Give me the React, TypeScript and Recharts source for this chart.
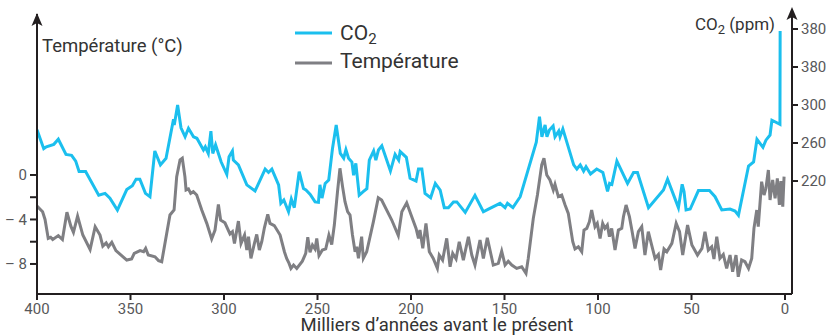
import { ComposedChart, Line, XAxis, YAxis } from "recharts";

// CO2 (ppm) by thousands of years before present
const co2Years = [
  400, 396.4, 395, 391, 388.6, 384.5, 381.5, 379.3, 377.5, 374, 367, 363.6, 361, 357, 352, 349, 347, 345, 342, 339.6,
  337, 334, 331, 327, 326.6, 324.8, 323, 320.8, 319, 316.3, 314.5, 311, 310, 308.4, 307, 306, 304.5, 301.5, 298.5,
  297.3, 295.5, 295, 292.3, 287.8, 283.4, 280.7, 278, 276.2, 274.4, 270.8, 269.6, 268, 265.5, 264, 262.4, 259.8,
  257.5, 256.2, 253.9, 251.3, 249.5, 248.7, 247.6, 245.9, 244, 242, 240, 237.8, 236, 234.8, 233.4, 231.6, 230.7,
  229.5, 227.7, 225.4, 223.6, 222.3, 220, 218.8, 217.4, 215.6, 211, 208.5, 206.6, 205.8, 202.5, 200.5, 197.3, 196,
  194.2, 192.5, 189.5, 187, 184.4, 182.2, 180, 177.3, 175.5, 171, 165.8, 161.3, 158.6, 152.4, 149.7, 148.4, 145.5,
  141.6, 133, 131.3, 130, 128.3, 127.3, 126, 124, 123, 121, 120.3, 118.8, 117, 113, 111.3, 109.5, 107.7, 106.4, 104,
  100.7, 97.4, 94.9, 93.8, 92.6, 89.9, 84.2, 81, 78.9, 73, 65, 62.8, 57, 55, 54, 52.9, 50.7, 46.3, 40.4, 37.4, 33.8,
  29.4, 26.7, 24.9, 19.5, 16.8, 15, 11.8, 10.2, 8, 7, 2.7, 2.6,
];
const co2Values = [
  274, 254, 256, 258.6, 264, 248, 247, 241, 230, 230, 205, 207, 202, 189.5, 211, 215, 222, 222, 207, 203.5,
  251.6, 237, 244, 285, 279, 300, 276, 266.6, 275.5, 266.6, 265, 252.6, 256, 249, 272.6, 249, 258, 240, 227,
  245.6, 251.6, 242, 237, 216, 209.5, 221, 232.6, 229, 232.6, 216, 196.5, 200, 187.7, 201, 192, 229.8,
  212, 210.5, 206, 198, 197.6, 216, 202, 217.5, 221, 254, 279, 249, 244, 253, 244, 240, 226,
  238.6, 205, 209, 212, 242, 251.6, 242, 252.6, 257, 230.5, 248, 242, 251, 245, 223, 220, 232.6,
  232.6, 207, 202.5, 217.5, 210.5, 192, 192, 198, 198, 187, 205, 187.7, 190.5, 196.5, 192, 196.5, 192,
  203.5, 261, 287.7, 266.6, 279, 266.6, 273.7, 278, 266.6, 272.6, 266.6, 274.7, 263, 237, 232.6, 237, 230.5, 235, 227.4,
  232.6, 229, 209, 217.5, 216.5, 241, 217.5, 229, 229, 192, 210.5, 222, 192, 216.5, 209, 189.5, 190.5, 210, 210, 203.5, 189.5,
  190.5, 188.4, 184, 235.8, 240, 263.9, 255.5, 263, 268.4, 284, 279.7, 378,
];

// Temperature anomaly (°C)
const tempYears = [
  400, 397, 395.7, 394, 392.7, 391.6, 388.6, 386.4, 384, 381.9, 380.5, 378.3, 375.5, 371.6, 368.9, 366.3, 364.8, 363,
  361.8, 360, 357.8, 352, 349.4, 348, 344.9, 343, 341.9, 340.5, 336.9, 335, 333.3, 328.9, 326.7, 325.3, 323.5, 322.3,
  320.9, 320.3, 319, 317.8, 316.4, 314.6, 311.9, 309.2, 306.6, 304.8, 303, 301.8, 299.5, 296.8, 295.5, 294.4, 292.3,
  290.9, 289, 287.8, 286.9, 285.6, 283.8, 282.5, 281.1, 279.8, 278.4, 276.6, 275.4, 273.1, 270, 267.7, 266.5, 265.2,
  264.2, 262.8, 261.1, 258.1, 256.3, 255.2, 254, 252.7, 251.3, 250.4, 249.2, 247.4, 245.6, 243.9, 242.4, 241, 239.3,
  238, 236.6, 235.3, 233.9, 232.6, 231.3, 229.9, 229, 228.1, 227.3, 226.4, 225.5, 223.7, 220.1, 217.5, 215.7, 210.3,
  206.8, 204.9, 202.3, 199.6, 197.3, 196, 195.2, 193.7, 192, 190.2, 188.1, 185.9, 184.9, 183.1, 180.9, 179.1, 177.7,
  175.9, 174.2, 172, 169.3, 167.5, 165.8, 163.1, 161.3, 159.2, 156, 153.3, 151.5, 149.7, 148, 146.1, 143.5, 140.8,
  138.5, 137.3, 134.6, 132.4, 130.1, 128.9, 127.4, 125.7, 123.9, 123, 121.2, 119.4, 117.6, 115.9, 113.5, 112.3, 110.5,
  108.7, 107.5, 106, 104.6, 103.4, 101.6, 100.4, 98.9, 97.5, 96.3, 95, 93.9, 92.7, 90.9, 89.1, 87.3, 86.4, 85, 83.2,
  81.9, 80.2, 78.4, 76.6, 74.9, 73.1, 71.3, 69.5, 67.7, 66.5, 64.7, 63.2, 60.5, 58.2, 56.4, 54.7, 52.1, 49.8, 46.8,
  44.4, 42.8, 41, 39.2, 38, 36.5, 34.8, 33, 31.2, 29.4, 28, 26.2, 25, 23.2, 21.4, 19.5, 17.8, 16.6, 15.1, 14.3, 12.5,
  11.2, 10.2, 8.9, 8, 6.6, 5.3, 4.1, 3, 2.2, 1.2, 0.5,
];
const tempValues = [
  -2.8, -3.3, -4.0, -5.7, -5.6, -5.8, -5.45, -5.8, -3.35, -4.6, -5.15, -3.7, -5.4, -6.7, -4.65, -5.4, -6.4, -6.1,
  -6.45, -6.05, -6.8, -7.65, -7.55, -7.05, -6.8, -6.9, -6.6, -7.2, -7.35, -7.7, -7.8, -3.6, -3.15, -0.15, 1.35, 1.5,
  -0.15, -1.35, -1.25, -1.65, -1.5, -1.8, -3.15, -4.35, -5.75, -4.95, -2.65, -4.05, -4.3, -5.3, -5.1, -6.15, -4.15,
  -6.15, -5.4, -6.75, -5.55, -7.5, -6.2, -5.35, -6.75, -6.0, -4.75, -3.55, -4.35, -4.55, -5.4, -6.9, -7.5, -7.95,
  -8.4, -8.1, -8.4, -7.75, -7.05, -5.6, -6.95, -6.3, -6.65, -5.7, -7.25, -6.75, -6.65, -5.4, -6.25, -4.5, -1.5,
  0.6, -1.05, -2.4, -3.3, -3.6, -5.4, -6.9, -6.45, -7.5, -6.6, -5.55, -7.5, -6.9, -4.2, -2.05, -2.25, -4.05,
  -5.45, -3.3, -2.5, -3.75, -4.8, -5.7, -4.95, -6.6, -4.35, -6.9, -7.5, -8.4, -7.2, -7.65, -5.7, -8.25, -7.05,
  -7.55, -6.0, -7.65, -5.55, -7.2, -8.1, -5.85, -7.5, -5.65, -8.1, -7.95, -6.85, -8.1, -7.75, -8.1, -8.4, -8.25,
  -8.85, -7.5, -3.9, -1.8, 0.9, 1.5, 0, -0.45, -1.35, -0.85, -1.95, -1.8, -2.7, -3.45, -6.0, -6.65, -6.45,
  -6.9, -4.95, -4.8, -4.2, -3.15, -4.65, -4.35, -5.7, -4.35, -4.8, -4.5, -5.55, -4.8, -6.75, -4.95, -4.8, -3.75, -2.7, -3.75,
  -4.95, -6.6, -5.1, -4.65, -7.2, -5.1, -6.3, -7.5, -7.15, -8.55, -6.65, -6.9, -6.15, -4.35, -5.1, -7.2, -4.5, -6.3, -7.2,
  -6.6, -5.1, -6.75, -6.45, -7.55, -5.55, -7.5, -7.15, -8.4, -7.2, -8.7, -7.2, -9.15, -7.65, -7.8, -8.4, -7.5, -4.8, -3.15, -4.65, -0.6,
  -1.8, -1.2, 0.45, -2.25, -0.45, -2.1, -0.3, -2.7, -0.55, -2.85, -0.15,
];

const yearTicks = [400, 350, 300, 250, 200, 150, 100, 50, 0];
const tempTicks = [-8, -6, -4, -2, 0];
const tempTickLabels = ["– 8", "", "– 4", "", "0"];
const co2Ticks = [220, 260, 300, 340, 380];
const co2TickLabels = ["220", "260", "300", "380", "380"];

const CO2_COLOR = "#1bbfee";
const TEMP_COLOR = "#7f7f83";
const AXIS_COLOR = "#231f20";
const FONT = "Roboto, sans-serif";

const co2Data = co2Years.map((year, i) => ({ year, co2: co2Values[i] }));
const tempData = tempYears.map((year, i) => ({ year, temp: tempValues[i] }));

const tickStyle = { fill: "#58585a", fontSize: 15, fontFamily: FONT };

function Arrow({ x, tip }: { x: number; tip: number }) {
  return (
    <path
      d={`M${x} ${tip} L${x + 5.5} ${tip + 13} L${x} ${tip + 10} L${x - 5.5} ${tip + 13} Z`}
      fill={AXIS_COLOR}
    />
  );
}

export default function App() {
  return (
    <div style={{ position: "absolute", left: 0, top: 0, width: 829, height: 336, background: "#fff", overflow: "hidden" }}>
      <ComposedChart width={829} height={336} margin={{ top: 14, right: 0, bottom: 0, left: 0 }}>
        <XAxis
          dataKey="year"
          type="number"
          domain={[-3.74, 400]}
          reversed
          ticks={yearTicks}
          interval={0}
          allowDataOverflow
          height={42}
          tickSize={6}
          tickMargin={3}
          stroke={AXIS_COLOR}
          strokeWidth={2}
          tick={tickStyle}
        />
        <YAxis
          yAxisId="temp"
          orientation="left"
          width={37}
          domain={[-10.7, 14.47]}
          ticks={tempTicks}
          interval={0}
          allowDataOverflow
          tickSize={7}
          tickMargin={3}
          stroke={AXIS_COLOR}
          strokeWidth={2}
          tick={tickStyle}
          tickFormatter={(v: number) => tempTickLabels[tempTicks.indexOf(v)] ?? ""}
        />
        <YAxis
          yAxisId="co2"
          orientation="right"
          width={37}
          domain={[101.1, 395.8]}
          ticks={co2Ticks}
          interval={0}
          allowDataOverflow
          tickSize={6}
          tickMargin={3}
          stroke={AXIS_COLOR}
          strokeWidth={2}
          tick={tickStyle}
          tickFormatter={(v: number) => co2TickLabels[co2Ticks.indexOf(v)] ?? ""}
        />
        <Line
          yAxisId="temp"
          data={tempData}
          dataKey="temp"
          type="linear"
          stroke={TEMP_COLOR}
          strokeWidth={3}
          dot={false}
          isAnimationActive={false}
        />
        <Line
          yAxisId="co2"
          data={co2Data}
          dataKey="co2"
          type="linear"
          stroke={CO2_COLOR}
          strokeWidth={3}
          dot={false}
          isAnimationActive={false}
        />
      </ComposedChart>

      <svg
        width={829}
        height={336}
        style={{ position: "absolute", left: 0, top: 0, pointerEvents: "none" }}
        fontFamily={FONT}
      >
        {/* axis arrows */}
        <line x1={792} y1={15} x2={792} y2={20} stroke={AXIS_COLOR} strokeWidth={2} />
        <Arrow x={37} tip={13} />
        <Arrow x={792} tip={7} />

        {/* axis titles */}
        <text x={42} y={52} fontSize={18.5} fill="#333">Température (°C)</text>
        <text x={695} y={30} fontSize={17} fill="#333">
          CO<tspan dy={4} fontSize={13}>2</tspan>
          <tspan dy={-4}> (ppm)</tspan>
        </text>
        <text x={437} y={331} fontSize={18.5} fill="#333" textAnchor="middle">
          Milliers d’années avant le présent
        </text>

        {/* legend */}
        <line x1={295} y1={33} x2={332} y2={33} stroke={CO2_COLOR} strokeWidth={3} />
        <text x={340} y={40} fontSize={21} fill="#333">
          CO<tspan dy={4} fontSize={15}>2</tspan>
        </text>
        <line x1={295} y1={63} x2={332} y2={63} stroke={TEMP_COLOR} strokeWidth={3} />
        <text x={340} y={68} fontSize={21} fill="#333">Température</text>
      </svg>
    </div>
  );
}
